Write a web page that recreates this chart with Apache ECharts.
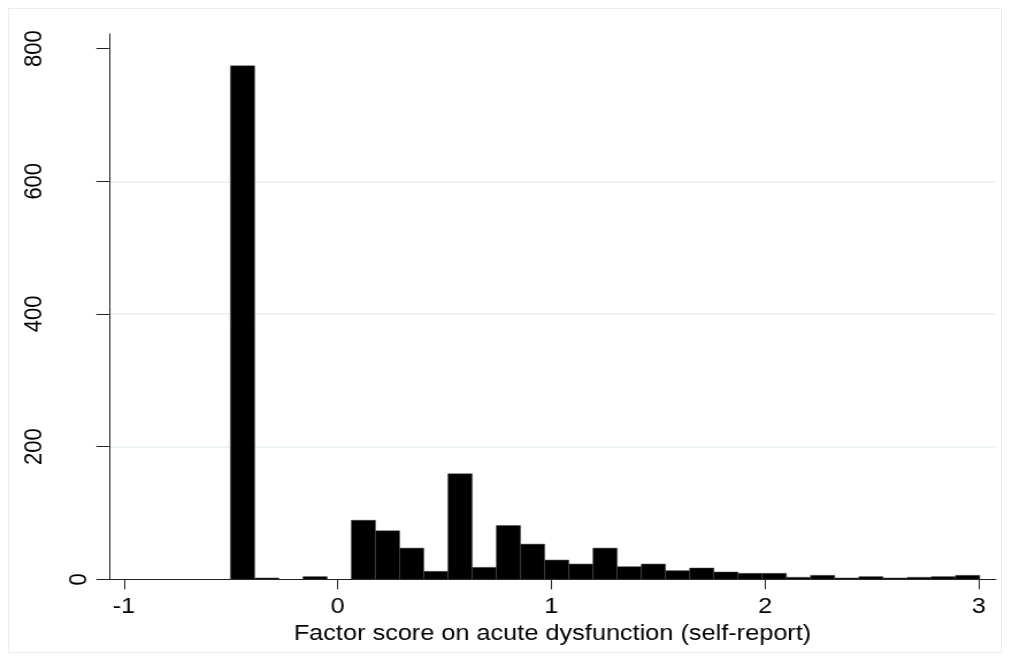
<!DOCTYPE html>
<html>
<head>
<meta charset="utf-8">
<script src="https://cdn.jsdelivr.net/npm/echarts@6/dist/echarts.min.js"></script>
<style>
  html, body { margin: 0; padding: 0; background: #ffffff; }
  #wrap { position: relative; width: 1011px; height: 662px; overflow: hidden; background: #fff; }
  #frame { position: absolute; left: 8px; top: 8px; width: 994px; height: 645px; border: 1px solid #e6eef0; box-sizing: border-box; }
  #chart { position: absolute; left: 0; top: 0; width: 879px; height: 662px; transform: scaleX(1.15); transform-origin: 0 0; }
</style>
</head>
<body>
<div id="wrap">
  <div id="frame"></div>
  <div id="chart"></div>
</div>
<script>
// ---- data ----
const binStart = -0.5018;   // left edge of first bin
const binWidth = 0.1131;    // bin width
const counts = [774, 2, 0, 4, 0, 89, 73, 47, 12, 159, 18, 81, 53, 29, 23, 47, 19, 23, 13, 17, 11, 9, 9, 3, 6, 2, 4, 2, 3, 4, 6];
const xTicks = [-1, 0, 1, 2, 3];
const yTicks = [0, 200, 400, 600, 800];
const xTitle = 'Factor score on acute dysfunction (self-report)';

const bins = counts.map((c, i) => [binStart + i * binWidth, binStart + (i + 1) * binWidth, c]);

const FONT = '"Liberation Sans", Arial, Helvetica, sans-serif';
const chart = echarts.init(document.getElementById('chart'), null, { renderer: 'canvas' });

chart.setOption({
  animation: false,
  backgroundColor: 'transparent',
  grid: { left: 94.8, right: 13, top: 34, bottom: 82.7, containLabel: false, outerBoundsMode: 'none' },
  xAxis: {
    type: 'value', min: -1.07, max: 3.08,
    axisLine: { show: true, onZero: false, lineStyle: { color: '#222', width: 1 } },
    axisTick: { show: true, customValues: xTicks, length: 10, lineStyle: { color: '#222', width: 1 } },
    axisLabel: { customValues: xTicks, margin: 17, fontSize: 22, color: '#000', fontFamily: FONT },
    splitLine: { show: false },
    name: xTitle, nameLocation: 'middle', nameGap: 39,
    nameTextStyle: { fontSize: 22, color: '#000', fontFamily: FONT }
  },
  yAxis: [{
    type: 'value', min: 0, max: 822, position: 'left',
    axisLine: { show: true, onZero: false, lineStyle: { color: '#222', width: 1 } },
    axisTick: { show: true, customValues: yTicks, length: 11, lineStyle: { color: '#222', width: 1 } },
    axisLabel: { customValues: yTicks.slice(1), rotate: 90, margin: 54, fontSize: 22, color: '#000', fontFamily: FONT },
    splitLine: { show: true, showMinLine: false, showMaxLine: false, lineStyle: { color: '#e8f0f1', width: 1.5 } }
  }, {
    type: 'value', min: 0, max: 822, position: 'left',
    axisLine: { show: false, onZero: false }, axisTick: { show: false }, splitLine: { show: false },
    axisLabel: { customValues: [yTicks[0]], rotate: 90, margin: 15, fontSize: 22, color: '#000', fontFamily: FONT }
  }],
  series: [{
    type: 'custom',
    xAxisIndex: 0, yAxisIndex: 0,
    encode: { x: [0, 1], y: 2 },
    data: bins,
    renderItem: function (params, api) {
      const c = api.value(2);
      if (!c) return null;
      const p0 = api.coord([api.value(0), c]);
      const p1 = api.coord([api.value(1), 0]);
      return {
        type: 'rect',
        shape: { x: p0[0], y: p0[1], width: p1[0] - p0[0], height: p1[1] - p0[1] },
        style: { fill: '#000', stroke: '#444', lineWidth: 0.5 }
      };
    }
  }]
});
</script>
</body>
</html>
